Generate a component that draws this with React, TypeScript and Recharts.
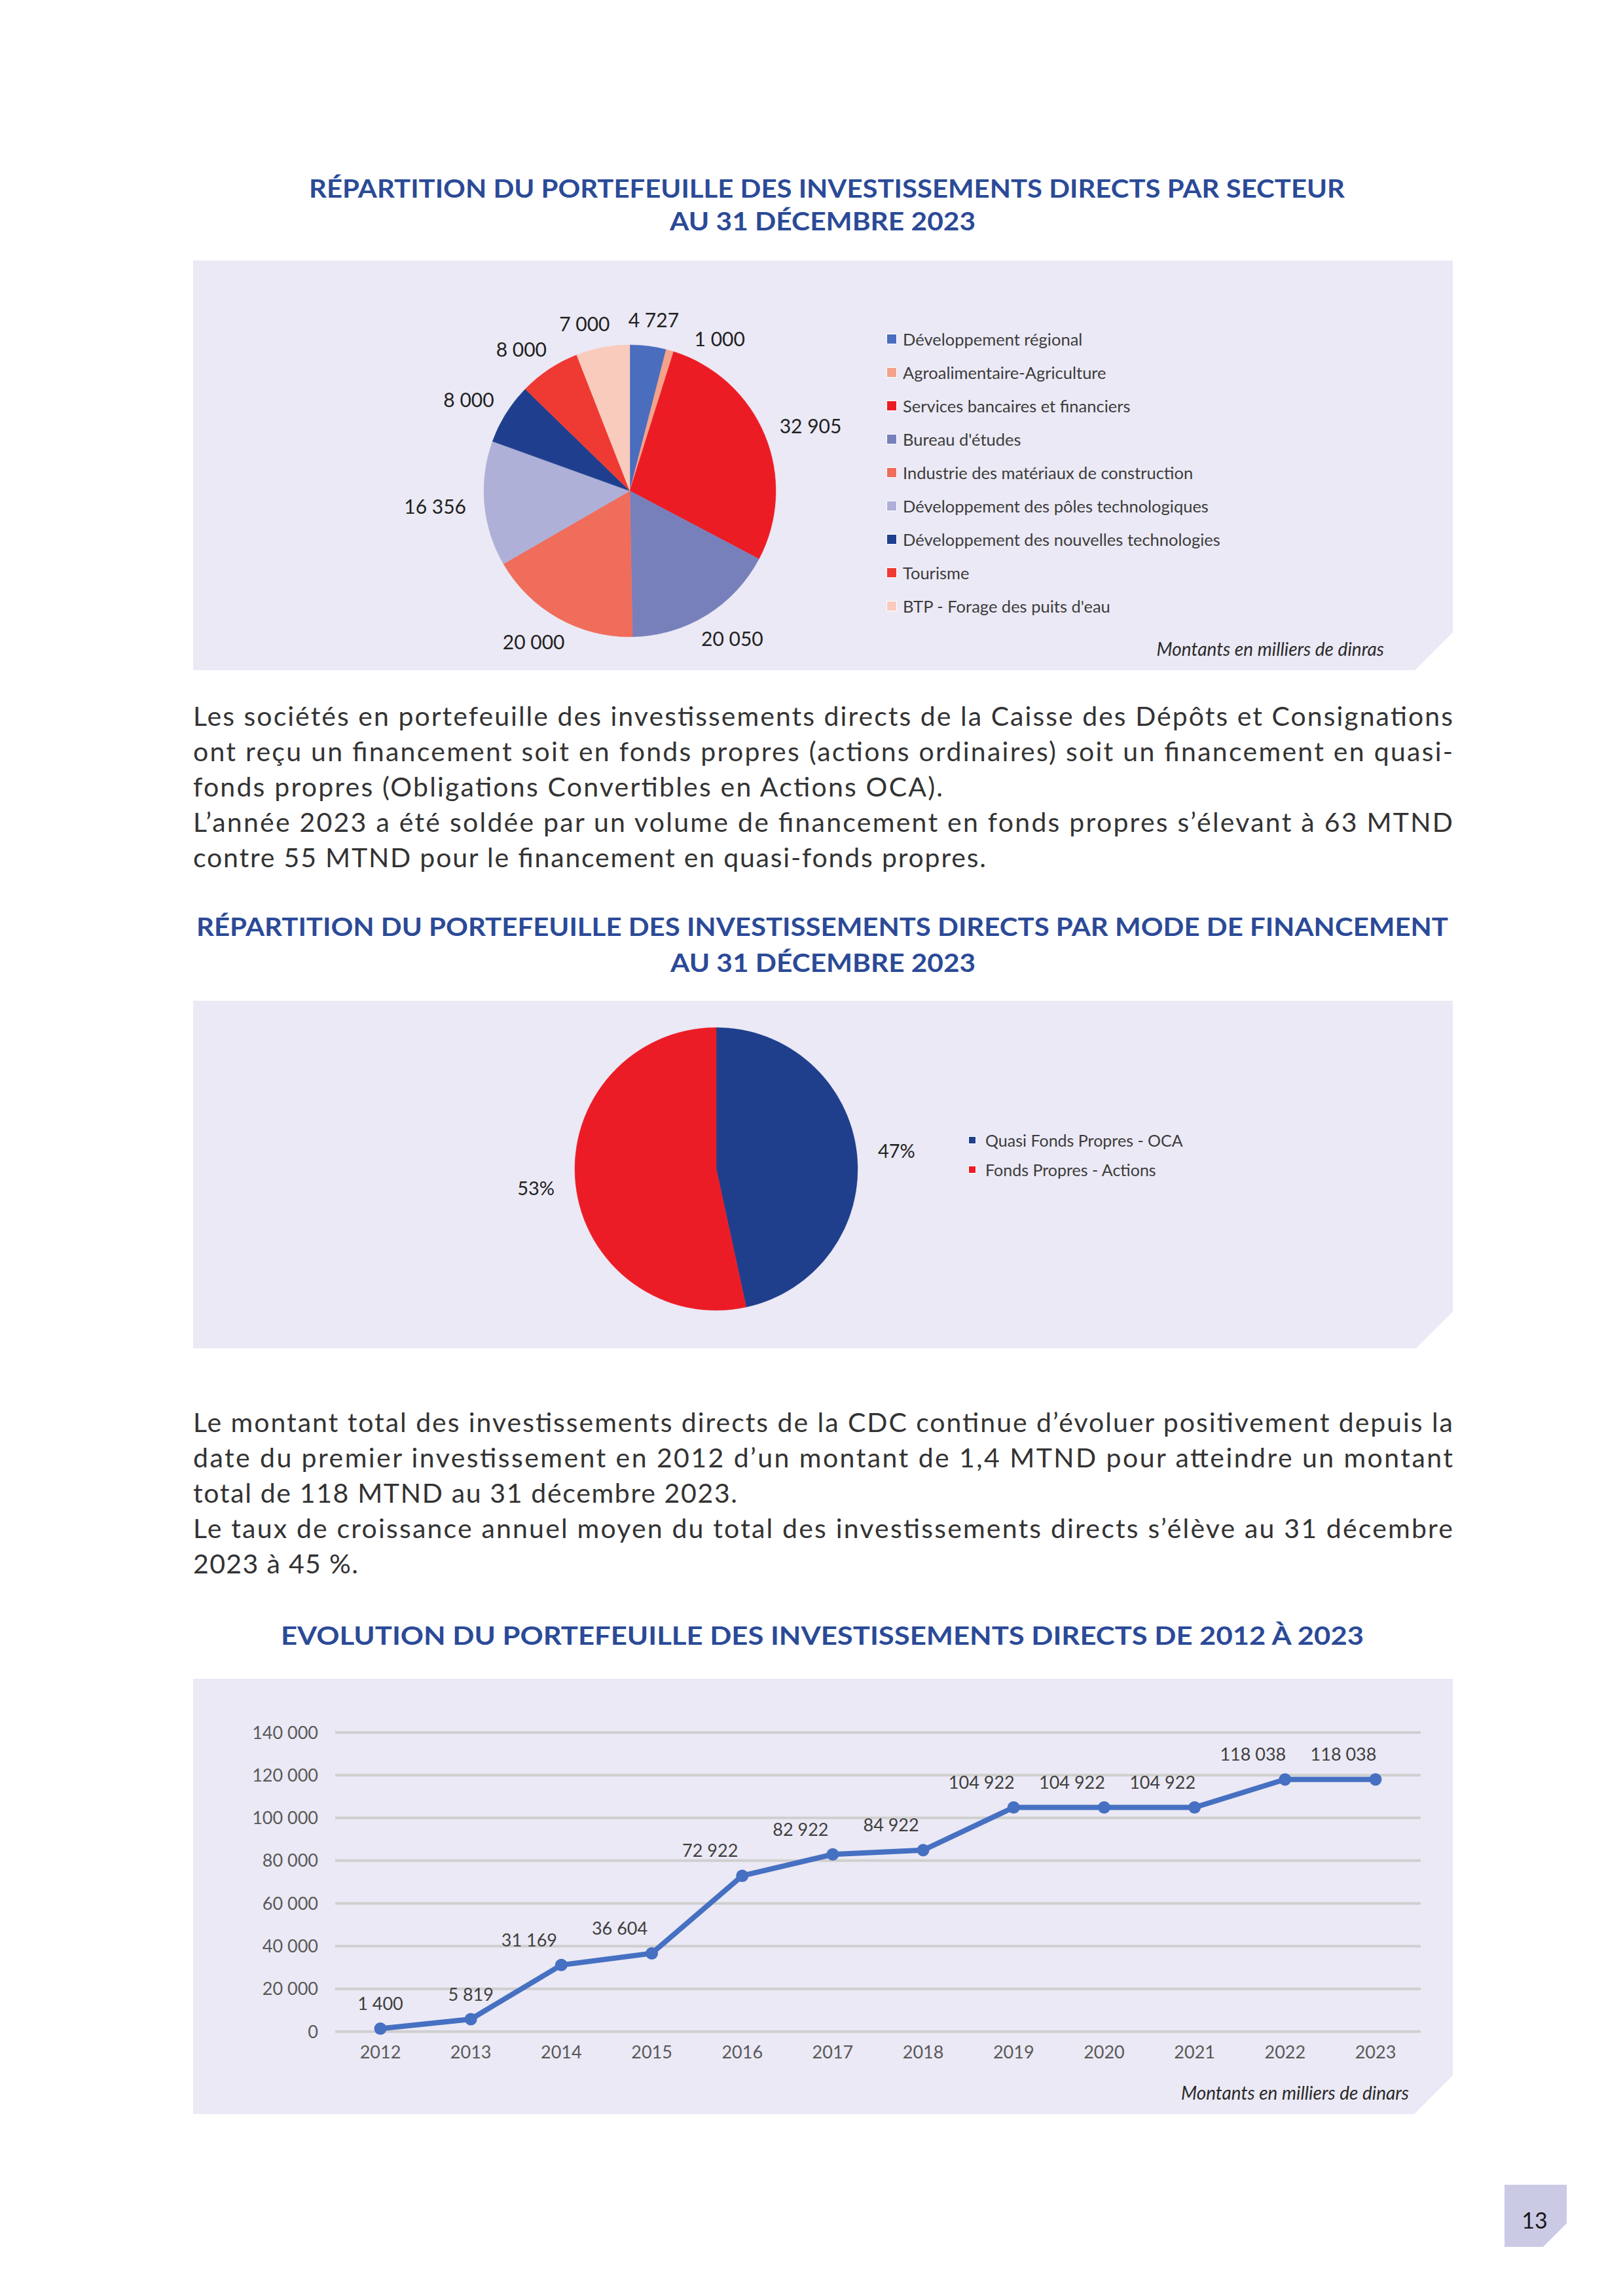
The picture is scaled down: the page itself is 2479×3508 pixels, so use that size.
import React from 'react';
import { PieChart, Pie, Cell, Legend, LineChart, Line, XAxis, YAxis, CartesianGrid } from 'recharts';

const FONT = 'Lato, "Noto Sans", "DejaVu Sans", sans-serif';
const TITLE_COLOR = '#2B4A97';
const TEXT_COLOR = '#333333';
const PANEL_BG = '#EBE9F5';

// ---- Chart 1: par secteur (milliers de dinars)
const sectorNames = [
  'Développement régional',
  'Agroalimentaire-Agriculture',
  'Services bancaires et financiers',
  "Bureau d'études",
  'Industrie des matériaux de construction',
  'Développement des pôles technologiques',
  'Développement des nouvelles technologies',
  'Tourisme',
  "BTP - Forage des puits d'eau",
];
const sectorValues = [4727, 1000, 32905, 20050, 20000, 16356, 8000, 8000, 7000];
const sectorColors = ['#4A6DBD', '#F5A28C', '#EC1C24', '#7880BC', '#F06C5B', '#AEB0D8', '#1F3F8E', '#EE3A33', '#F9CBBD'];

// ---- Chart 2: par mode de financement (MTND)
const modeNames = ['Quasi Fonds Propres - OCA', 'Fonds Propres - Actions'];
const modeValues = [55, 63];
const modeColors = ['#1F3F8C', '#EC1C26'];

// ---- Chart 3: évolution 2012-2023 (milliers de dinars)
const years = ['2012', '2013', '2014', '2015', '2016', '2017', '2018', '2019', '2020', '2021', '2022', '2023'];
const portfolioValues = [1400, 5819, 31169, 36604, 72922, 82922, 84922, 104922, 104922, 104922, 118038, 118038];
const yTicks = [0, 20000, 40000, 60000, 80000, 100000, 120000, 140000];

// ---- Texts
const title1 = ['RÉPARTITION DU PORTEFEUILLE DES INVESTISSEMENTS DIRECTS PAR SECTEUR', 'AU 31 DÉCEMBRE 2023'];
const title2 = ['RÉPARTITION DU PORTEFEUILLE DES INVESTISSEMENTS DIRECTS PAR MODE DE FINANCEMENT', 'AU 31 DÉCEMBRE 2023'];
const title3 = ['EVOLUTION DU PORTEFEUILLE DES INVESTISSEMENTS DIRECTS DE 2012 À 2023'];
const paragraph1 = [
  'Les sociétés en portefeuille des investissements directs de la Caisse des Dépôts et Consignations',
  'ont reçu un financement soit en fonds propres (actions ordinaires) soit un financement en quasi-',
  'fonds propres (Obligations Convertibles en Actions OCA).',
  'L’année 2023 a été soldée par un volume de financement en fonds propres s’élevant à 63 MTND',
  'contre 55 MTND pour le financement en quasi-fonds propres.',
];
const paragraph2 = [
  'Le montant total des investissements directs de la CDC continue d’évoluer positivement depuis la',
  'date du premier investissement en 2012 d’un montant de 1,4 MTND pour atteindre un montant',
  'total de 118 MTND au 31 décembre 2023.',
  'Le taux de croissance annuel moyen du total des investissements directs s’élève au 31 décembre',
  '2023 à 45 %.',
];
const note1 = 'Montants en milliers de dinras';
const note3 = 'Montants en milliers de dinars';
const pageNumber = '13';

const sectorData = sectorNames.map((name, i) => ({ name, value: sectorValues[i] }));
const modeData = modeNames.map((name, i) => ({ name, value: modeValues[i] }));
const lineData = years.map((year, i) => ({ year, value: portfolioValues[i] }));

const fmt = (v: number) => String(Math.round(v)).replace(/\B(?=(\d{3})+(?!\d))/g, ' ');
const RAD = Math.PI / 180;

// clockwise label angles (from 12 o'clock) spread apart to avoid overlaps
function spreadLabelAngles(values: number[], minSep: number) {
  const total = values.reduce((a, b) => a + b, 0);
  let cum = 0;
  const mids: number[] = [];
  values.forEach((v) => {
    mids.push(((cum + v / 2) / total) * 360);
    cum += v;
  });
  const out = mids.slice();
  for (let i = 1; i < out.length; i++) out[i] = Math.max(out[i], out[i - 1] + minSep);
  const n = out.length;
  if (minSep > 0 && n > 1) {
    let next = out[0] + 360;
    for (let i = n - 1; i >= 1; i--) {
      out[i] = Math.min(out[i], next - minSep);
      next = out[i];
    }
  }
  return out;
}

function outsideLabel(angles: number[], gap: number, fontSize: number, textOf: (p: any) => string) {
  return (p: any) => {
    const a = angles[p.index];
    const ux = Math.sin(a * RAD);
    const uy = -Math.cos(a * RAD);
    const txt = textOf(p);
    const w = txt.length * 0.55 * fontSize;
    const h = fontSize;
    const r = p.outerRadius + gap;
    const x = p.cx + r * ux + (ux * w) / 2;
    const y = p.cy + r * uy + (uy * h) / 2;
    return (
      <text key={`lbl-${p.index}`} x={x} y={y} textAnchor="middle" dominantBaseline="central" fill="#222" fontSize={fontSize} fontFamily={FONT}>
        {txt}
      </text>
    );
  };
}

function legendContent(names: string[], colors: string[], rowH: number, sq: number, fontSize: number, gap: number) {
  return () => (
    <div style={{ fontFamily: FONT }}>
      {names.map((n, i) => (
        <div key={i} style={{ height: rowH, display: 'flex', alignItems: 'center' }}>
          <span
            style={{
              display: 'inline-block',
              width: sq,
              height: sq,
              background: colors[i],
              border: '1.5px solid #fff',
              boxSizing: 'content-box',
              marginRight: gap,
            }}
          />
          <span style={{ fontSize, color: '#3C3C3C', whiteSpace: 'nowrap' }}>{n}</span>
        </div>
      ))}
    </div>
  );
}

const Panel = ({ x, y, w, h, cut, children }: any) => (
  <div
    style={{
      position: 'absolute',
      left: x,
      top: y,
      width: w,
      height: h,
      background: PANEL_BG,
      clipPath: `polygon(0 0, ${w}px 0, ${w}px ${h - cut}px, ${w - cut}px ${h}px, 0 ${h}px)`,
    }}
  >
    {children}
  </div>
);

const Note = ({ text, right, cy }: any) => (
  <div
    style={{
      position: 'absolute',
      left: 0,
      width: right,
      top: cy - 15,
      height: 30,
      lineHeight: '30px',
      textAlign: 'right',
      fontStyle: 'italic',
      fontSize: 28,
      color: '#2A2A2A',
      fontFamily: FONT,
      whiteSpace: 'nowrap',
    }}
  >
    {text}
  </div>
);

const DataLabel = (p: any) => {
  const dx = p.value < 10000 ? 0 : -49;
  return (
    <text x={p.x + dx} y={p.y - 39} textAnchor="middle" dominantBaseline="central" fill="#404040" fontSize={27} fontFamily={FONT}>
      {fmt(p.value)}
    </text>
  );
};

const sectorLabelAngles = spreadLabelAngles(sectorValues, 21);
const modeLabelAngles = spreadLabelAngles(modeValues, 0);

export default function App() {
  const W = 2479;
  const H = 3508;
  const panelX = 295;
  const panelW = 1924;

  const titleWidths1 = [1582, 467];
  const titleX1 = [472, 1023];
  const titleY1 = [302, 352];
  const titleWidths2 = [1912, 466];
  const titleX2 = [300, 1024];
  const titleY2 = [1430, 1485];
  const p1Widths = [1924, 1924, 1145, 1924, 1211];
  const p2Widths = [1924, 1924, 831, 1924, 252];

  const titleText = (t: string, x: number, y: number, w: number, k: string) => (
    <text key={k} x={x} y={y} textLength={w} lengthAdjust="spacingAndGlyphs" fontSize={39} fontWeight={700} fill={TITLE_COLOR} fontFamily={FONT}>
      {t}
    </text>
  );
  const paraText = (t: string, y: number, w: number, k: string) => (
    <text key={k} x={panelX} y={y} textLength={w} lengthAdjust="spacing" fontSize={41} fill={TEXT_COLOR} fontFamily={FONT}>
      {t}
    </text>
  );

  return (
    <div style={{ position: 'absolute', left: 0, top: 0, width: W, height: H, background: '#fff', fontFamily: FONT, overflow: 'hidden' }}>
      {/* Panel 1 */}
      <Panel x={panelX} y={398} w={panelW} h={626} cut={58}>
        <PieChart width={panelW} height={626} margin={{ top: 0, right: 0, bottom: 0, left: 0 }}>
          <Pie
            data={sectorData}
            dataKey="value"
            nameKey="name"
            cx={667}
            cy={352}
            outerRadius={223}
            startAngle={90}
            endAngle={-270}
            isAnimationActive={false}
            labelLine={false}
            label={outsideLabel(sectorLabelAngles, 26, 30, (p) => fmt(p.value))}
          >
            {sectorData.map((d, i) => (
              <Cell key={i} fill={sectorColors[i]} stroke={sectorColors[i]} strokeWidth={0.5} />
            ))}
          </Pie>
          <Legend
            layout="vertical"
            align="right"
            verticalAlign="top"
            wrapperStyle={{ left: 1059, top: 94, width: 620 }}
            content={legendContent(sectorNames, sectorColors, 51, 14, 25.5, 9)}
          />
        </PieChart>
        <Note text={note1} right={1819} cy={593} />
      </Panel>

      {/* Panel 2 */}
      <Panel x={panelX} y={1529} w={panelW} h={531} cut={56}>
        <PieChart width={panelW} height={531} margin={{ top: 0, right: 0, bottom: 0, left: 0 }}>
          <Pie
            data={modeData}
            dataKey="value"
            nameKey="name"
            cx={799}
            cy={257}
            outerRadius={216}
            startAngle={90}
            endAngle={-270}
            isAnimationActive={false}
            labelLine={false}
            label={outsideLabel(modeLabelAngles, 37, 29, (p) => `${Math.round(p.percent * 100)}%`)}
          >
            {modeData.map((d, i) => (
              <Cell key={i} fill={modeColors[i]} stroke={modeColors[i]} strokeWidth={0.5} />
            ))}
          </Pie>
          <Legend
            layout="vertical"
            align="right"
            verticalAlign="top"
            wrapperStyle={{ left: 1184, top: 190, width: 520 }}
            content={legendContent(modeNames, modeColors, 45, 10, 25, 14)}
          />
        </PieChart>
      </Panel>

      {/* Panel 3 */}
      <Panel x={panelX} y={2565} w={panelW} h={665} cut={59}>
        <LineChart width={panelW} height={665} data={lineData} margin={{ top: 82, right: 49, bottom: 66, left: 0 }}>
          <CartesianGrid vertical={false} stroke="#CFCFCF" strokeWidth={4} />
          <XAxis
            dataKey="year"
            padding={{ left: 69, right: 69 }}
            axisLine={false}
            tickLine={false}
            tickSize={0}
            tickMargin={22}
            height={60}
            interval={0}
            tick={{ fill: '#595959', fontSize: 27, fontFamily: FONT }}
          />
          <YAxis
            domain={[0, 140000]}
            ticks={yTicks}
            axisLine={false}
            tickLine={false}
            tickSize={0}
            tickMargin={26}
            width={217}
            interval={0}
            tickFormatter={fmt}
            tick={{ fill: '#595959', fontSize: 27, fontFamily: FONT }}
          />
          <Line
            type="linear"
            dataKey="value"
            stroke="#4670C2"
            strokeWidth={8}
            dot={{ r: 9.5, fill: '#4670C2', stroke: 'none' }}
            isAnimationActive={false}
            label={DataLabel}
          />
        </LineChart>
        <Note text={note3} right={1857} cy={632} />
      </Panel>

      {/* Page number box */}
      <div
        style={{
          position: 'absolute',
          left: 2298,
          top: 3338,
          width: 95,
          height: 95,
          background: '#CBCAE5',
          clipPath: 'polygon(0 0, 95px 0, 95px 59px, 59px 95px, 0 95px)',
        }}
      />

      {/* Text overlay */}
      <svg width={W} height={H} style={{ position: 'absolute', left: 0, top: 0, pointerEvents: 'none' }}>
        {title1.map((t, i) => titleText(t, titleX1[i], titleY1[i], titleWidths1[i], `t1-${i}`))}
        {paragraph1.map((t, i) => paraText(t, 1109 + i * 54, p1Widths[i], `p1-${i}`))}
        {title2.map((t, i) => titleText(t, titleX2[i], titleY2[i], titleWidths2[i], `t2-${i}`))}
        {paragraph2.map((t, i) => paraText(t, 2188 + i * 54, p2Widths[i], `p2-${i}`))}
        {title3.map((t, i) => titleText(t, 429, 2513, 1654, `t3-${i}`))}
        <text x={2344} y={3391} textAnchor="middle" dominantBaseline="central" fontSize={34} fill="#1A1A1A" fontFamily={FONT}>
          {pageNumber}
        </text>
      </svg>
    </div>
  );
}
